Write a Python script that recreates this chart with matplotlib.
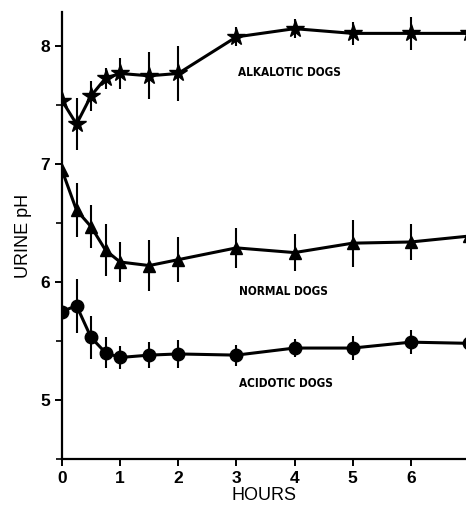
import matplotlib
matplotlib.use("Agg")
import matplotlib.pyplot as plt
from matplotlib.ticker import MultipleLocator

hours = [0, 0.25, 0.5, 0.75, 1, 1.5, 2, 3, 4, 5, 6, 7]

alk_ph = [7.54, 7.34, 7.58, 7.73, 7.77, 7.75, 7.77, 8.08, 8.15, 8.11, 8.11, 8.11]
alk_err = [0.05, 0.22, 0.13, 0.09, 0.13, 0.20, 0.23, 0.08, 0.08, 0.10, 0.14, 0.05]

norm_ph = [6.95, 6.61, 6.47, 6.27, 6.17, 6.14, 6.19, 6.29, 6.25, 6.33, 6.34, 6.39]
norm_err = [0.05, 0.23, 0.18, 0.22, 0.17, 0.22, 0.19, 0.17, 0.16, 0.20, 0.15, 0.05]

acid_ph = [5.75, 5.80, 5.53, 5.40, 5.36, 5.38, 5.39, 5.38, 5.44, 5.44, 5.49, 5.48]
acid_err = [0.05, 0.23, 0.18, 0.13, 0.10, 0.11, 0.12, 0.09, 0.08, 0.10, 0.10, 0.05]

labels = ["ALKALOTIC DOGS", "NORMAL DOGS", "ACIDOTIC DOGS"]
label_x = [3.02, 3.04, 3.04]
label_y = [7.78, 5.92, 5.14]

fig = plt.figure(figsize=(4.66, 5.07), dpi=100)
ax = fig.add_axes([0.133, 0.095, 0.867, 0.881])

common = dict(color="black", lw=2.2, elinewidth=1.5, capsize=0, clip_on=True)
ax.errorbar(hours, alk_ph, yerr=alk_err, marker="*", ms=13, **common)
ax.errorbar(hours, norm_ph, yerr=norm_err, marker="^", ms=8, **common)
ax.errorbar(hours, acid_ph, yerr=acid_err, marker="o", ms=9, **common)

for t, x, y in zip(labels, label_x, label_y):
    ax.text(x, y, t, fontsize=8.5, fontweight="bold", family="DejaVu Sans",
            fontstretch="condensed", ha="left", va="center")

ax.set_xlim(0, 6.95)
ax.set_ylim(4.5, 8.29)
ax.set_xticks([0, 1, 2, 3, 4, 5, 6])
ax.set_yticks([5, 6, 7, 8])
ax.yaxis.set_minor_locator(MultipleLocator(0.5))
for s in ["top", "right"]:
    ax.spines[s].set_visible(False)
ax.spines["left"].set_linewidth(1.6)
ax.spines["bottom"].set_linewidth(1.6)
ax.tick_params(axis="both", which="major", direction="out", length=5, width=1.4,
               labelsize=12.5)
ax.tick_params(axis="y", which="minor", direction="out", length=4, width=1.2)
for lab in ax.get_xticklabels() + ax.get_yticklabels():
    lab.set_fontweight("bold")
    lab.set_family("Liberation Sans")
ax.set_xlabel("HOURS", fontsize=13, family="Liberation Sans", labelpad=1)
ax.set_ylabel("URINE pH", fontsize=13, family="Liberation Sans", labelpad=6)

fig.savefig("out.png", dpi=100)
